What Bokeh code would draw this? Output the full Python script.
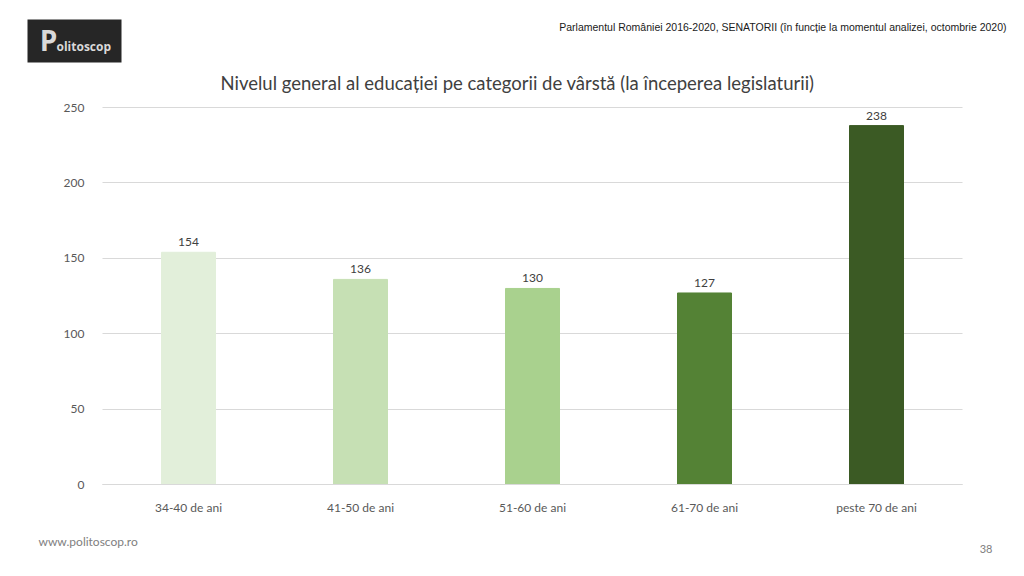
from bokeh.plotting import figure
from bokeh.models import ColumnDataSource, Range1d, Label, BoxAnnotation, FixedTicker, Grid
from bokeh.core.properties import value
from bokeh.embed import file_html
from bokeh.resources import INLINE

categories = ["34-40 de ani", "41-50 de ani", "51-60 de ani", "61-70 de ani", "peste 70 de ani"]
values = [154, 136, 130, 127, 238]
colors = ["#E2EFDA", "#C6E0B4", "#A9D18E", "#548235", "#3B5A24"]
y_ticks = [0, 50, 100, 150, 200, 250]

title = "Nivelul general al educației pe categorii de vârstă (la începerea legislaturii)"
header = "Parlamentul României 2016-2020, SENATORII (în funcție la momentul analizei, octombrie 2020)"
footer = "www.politoscop.ro"
page_no = "38"

# page layout (pixels)
W, H = 1024, 576
PL, PR, PT, PB = 102, 962, 107, 484      # chart area edges on the page
YMAX = 250
n = len(categories)
slot = (PR - PL) / n
ppu = (PB - PT) / YMAX

x_idx = list(range(n))
src = ColumnDataSource(dict(x=x_idx, val=values, color=colors, lab=[str(v) for v in values]))

# frame covers the whole page; ranges chosen so the chart area sits at PL..PR / PT..PB
x_start = -0.5 - PL / slot
x_end = x_start + W / slot
y_start = -(H - PB) / ppu
y_end = y_start + H / ppu

p = figure(width=W, height=H, x_range=Range1d(x_start, x_end), y_range=Range1d(y_start, y_end),
           output_backend="svg", toolbar_location=None,
           min_border_left=0, min_border_right=0, min_border_top=0, min_border_bottom=0)
p.outline_line_color = None
p.background_fill_color = "white"
p.border_fill_color = "white"

# grid
p.xgrid.grid_line_color = None
p.ygrid.grid_line_color = "#D9D9D9"
p.ygrid.ticker = FixedTicker(ticks=y_ticks)
if "cross_bounds" in Grid.properties():
    p.ygrid.cross_bounds = (-0.5, n - 0.5)
else:
    p.ygrid.grid_line_color = None
    p.segment(x0=[-0.5] * len(y_ticks), x1=[n - 0.5] * len(y_ticks), y0=y_ticks, y1=y_ticks,
              line_color="#D9D9D9", line_width=1)

p.vbar(x="x", top="val", width=54 / slot, color="color", source=src)
p.text(x="x", y="val", text="lab", source=src, text_align="center", text_baseline="bottom",
       y_offset=-6, text_font=value("Lato"), text_font_size="12px", text_color="#404040")

# axes drawn at fixed locations inside the frame
p.yaxis.fixed_location = -0.5
p.yaxis.ticker = FixedTicker(ticks=y_ticks)
p.yaxis.axis_line_color = None
p.yaxis.major_tick_line_color = None
p.yaxis.minor_tick_line_color = None
p.yaxis.major_label_standoff = 12
p.yaxis.major_label_text_font = "Lato"
p.yaxis.major_label_text_font_size = "12px"
p.yaxis.major_label_text_color = "#595959"

p.xaxis.fixed_location = 0
p.xaxis.bounds = (-0.5, n - 0.5)
p.xaxis.ticker = FixedTicker(ticks=x_idx)
p.xaxis.major_label_overrides = {i: c for i, c in zip(x_idx, categories)}
p.xaxis.axis_line_color = "#D9D9D9"
p.xaxis.major_tick_line_color = None
p.xaxis.minor_tick_line_color = None
p.xaxis.major_label_standoff = 9
p.xaxis.major_label_text_font = "Lato"
p.xaxis.major_label_text_font_size = "12px"
p.xaxis.major_label_text_color = "#595959"


def add_label(cx, cy, text, **kw):
    p.add_layout(Label(x=cx, y=H - cy, x_units="screen", y_units="screen",
                       text=text, text_baseline="middle", **kw))


add_label(517, 82, title, text_align="center", text_font="Lato",
          text_font_size="18.5px", text_color="#404040")
add_label(1006, 26, header, text_align="right", text_font="Liberation Sans",
          text_font_size="10.5px", text_color="#1a1a1a")
add_label(38, 541, footer, text_align="left", text_font="Lato",
          text_font_size="12px", text_color="#808080")
add_label(992, 548, page_no, text_align="right", text_font="Lato",
          text_font_size="11px", text_color="#808080")

# logo
p.add_layout(BoxAnnotation(left=27, right=121, top=H - 19, bottom=H - 62,
                           left_units="screen", right_units="screen",
                           top_units="screen", bottom_units="screen",
                           fill_color="#262626", fill_alpha=1, line_color=None))
add_label(48, 39, "P", text_align="center", text_font="Open Sans",
          text_font_size="28px", text_font_style="bold", text_color="#d9d9d9")
add_label(56, 46, "olitoscop", text_align="left", text_font="Open Sans",
          text_font_size="12px", text_font_style="bold", text_color="#d9d9d9")

open("out.html", "w").write(file_html(p, INLINE))
